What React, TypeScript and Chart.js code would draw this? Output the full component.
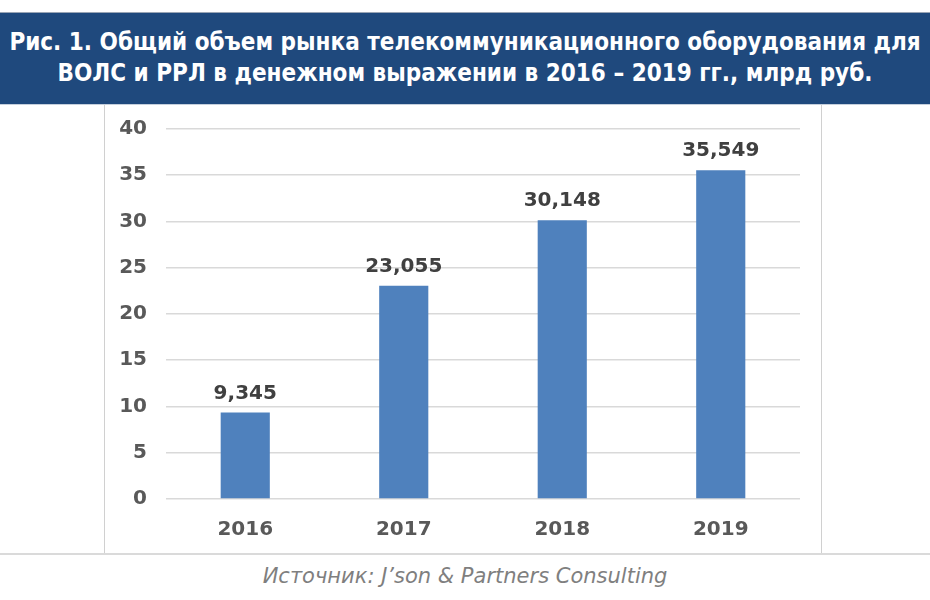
import React, { useEffect, useRef } from "react";
import { Chart, registerables } from "chart.js";

Chart.register(...registerables);

const years = ["2016", "2017", "2018", "2019"];
const marketValues = [9.345, 23.055, 30.148, 35.549];
const yTicks = [0, 5, 10, 15, 20, 25, 30, 35, 40];

const titleLine1 = "Рис. 1. Общий объем рынка телекоммуникационного оборудования для";
const titleLine2 = "ВОЛС и РРЛ в денежном выражении в 2016 – 2019 гг., млрд руб.";
const sourceText = "Источник: J’son & Partners Consulting";

const valueLabelPlugin = {
  id: "valueLabels",
  afterDatasetsDraw(chart: any) {
    const ctx = chart.ctx;
    const meta = chart.getDatasetMeta(0);
    ctx.save();
    ctx.font = "bold 20px 'DejaVu Sans'";
    ctx.fillStyle = "#404040";
    ctx.textAlign = "center";
    ctx.textBaseline = "bottom";
    meta.data.forEach((bar: any, i: number) => {
      const v = chart.data.datasets[0].data[i] as number;
      ctx.fillText(v.toFixed(3).replace(".", ","), bar.x, bar.y - 9);
    });
    ctx.restore();
  },
};

export default function App() {
  const ref = useRef<HTMLCanvasElement>(null);
  useEffect(() => {
    document.body.style.margin = "0";
    const chart = new Chart(ref.current!, {
      type: "bar",
      data: {
        labels: years,
        datasets: [
          {
            data: marketValues,
            backgroundColor: "#4F81BD",
            borderWidth: 0,
            barPercentage: 0.31,
            categoryPercentage: 1,
          },
        ],
      },
      options: {
        animation: false,
        responsive: false,
        maintainAspectRatio: false,
        layout: { padding: { top: 24, right: 21, left: 0, bottom: 0 } },
        plugins: { legend: { display: false }, tooltip: { enabled: false }, title: { display: false } },
        scales: {
          x: {
            grid: { display: false, drawTicks: false },
            border: { display: false },
            ticks: { color: "#595959", font: { family: "'DejaVu Sans'", size: 20, weight: "bold" }, padding: 19 },
            afterFit(scale: any) {
              scale.height = 54;
              scale.paddingLeft = 0;
              scale.paddingRight = 0;
            },
          },
          y: {
            min: 0,
            max: 40,
            afterBuildTicks(scale: any) {
              scale.ticks = yTicks.map((v) => ({ value: v }));
            },
            grid: { color: "#D9D9D9", lineWidth: 1.6, drawTicks: false },
            border: { display: false },
            ticks: { color: "#595959", font: { family: "'DejaVu Sans'", size: 20, weight: "bold" }, padding: 19 },
            afterFit(scale: any) {
              scale.width = 61;
              scale.paddingTop = 0;
              scale.paddingBottom = 0;
            },
          },
        },
      },
      plugins: [valueLabelPlugin],
    });
    return () => chart.destroy();
  }, []);

  return (
    <div style={{ position: "absolute", left: 0, top: 0, width: 930, height: 600, background: "#fff", overflow: "hidden" }}>
      <div style={{ position: "absolute", left: 0, top: 12, width: 930, height: 1, background: "#9aa5b5" }} />
      <div
        style={{
          position: "absolute",
          left: 0,
          top: 13,
          width: 930,
          height: 91,
          background: "#1F497D",
          color: "#fff",
          fontFamily: "'DejaVu Sans Condensed', 'DejaVu Sans'",
          fontWeight: "bold",
          fontSize: 24,
          textAlign: "center",
          lineHeight: "31px",
          paddingTop: 14,
          boxSizing: "border-box",
          whiteSpace: "nowrap",
        }}
      >
        <div>{titleLine1}</div>
        <div>{titleLine2}</div>
      </div>
      <div style={{ position: "absolute", left: 0, top: 104, width: 930, height: 1, background: "#c5cfdc" }} />
      <div
        style={{
          position: "absolute",
          left: 104,
          top: 105,
          width: 718,
          height: 448,
          borderLeft: "1px solid #D0D0D0",
          borderRight: "1px solid #D0D0D0",
          boxSizing: "border-box",
        }}
      >
        <canvas ref={ref} width={716} height={448} style={{ display: "block" }} />
      </div>
      <div style={{ position: "absolute", left: 0, top: 553, width: 930, height: 2, background: "#DADADA" }} />
      <div
        style={{
          position: "absolute",
          left: 0,
          top: 564,
          width: 930,
          textAlign: "center",
          fontFamily: "'DejaVu Sans'",
          fontStyle: "italic",
          fontSize: 21,
          color: "#7F7F7F",
        }}
      >
        {sourceText}
      </div>
    </div>
  );
}
